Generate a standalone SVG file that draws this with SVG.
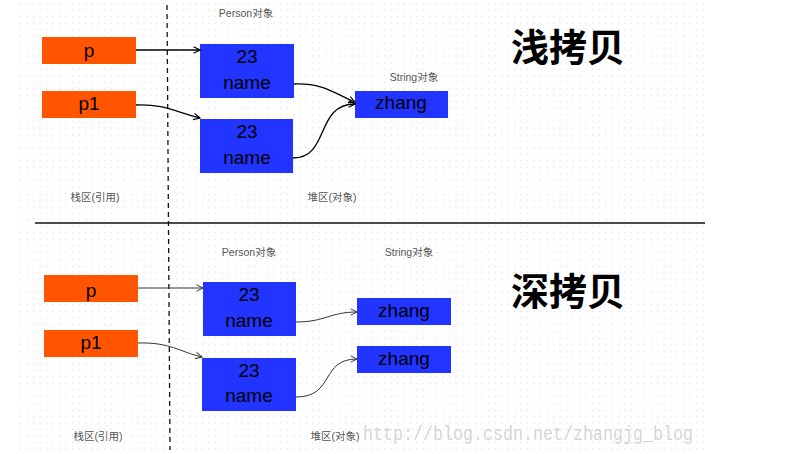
<svg xmlns="http://www.w3.org/2000/svg" width="798" height="454" viewBox="0 0 798 454">
<defs>
<pattern id="dots" x="20" y="3" width="6.5" height="6.55" patternUnits="userSpaceOnUse">
<rect x="0" y="0" width="1.2" height="1.2" fill="#dcdcdc"/>
</pattern>
<marker id="ah" viewBox="0 0 10 10" refX="9" refY="5" markerWidth="8" markerHeight="8" markerUnits="userSpaceOnUse" orient="auto">
<path d="M1,1 L9,5 L1,9" fill="none" stroke="#000" stroke-width="1.4"/>
</marker>
<marker id="ah2" viewBox="0 0 10 10" refX="9" refY="5" markerWidth="8" markerHeight="8" markerUnits="userSpaceOnUse" orient="auto">
<path d="M1,1 L9,5 L1,9" fill="none" stroke="#333" stroke-width="1.2"/>
</marker>
</defs>
<style>
.ref{fill:#FF5500}
.obj{fill:#2234FF}
.t{font-family:"Liberation Sans",Arial,sans-serif;font-size:19px;fill:#000;text-anchor:middle}
.s{font-family:"Liberation Sans","Noto Sans CJK SC",sans-serif;font-size:10.5px;fill:#555;text-anchor:middle}
.h{font-family:"Noto Sans CJK SC",sans-serif;font-size:38px;font-weight:bold;fill:#000;text-anchor:middle}
.c1{fill:none;stroke:#000;stroke-width:1.3}
.c2{fill:none;stroke:#333;stroke-width:1}
</style>
<rect width="798" height="454" fill="#fff"/>
<rect x="20" y="0" width="686" height="454" fill="url(#dots)"/>
<line x1="35" y1="223" x2="705" y2="223" stroke="#111" stroke-width="1.3"/>
<line x1="167" y1="5" x2="170" y2="450" stroke="#111" stroke-width="1.3" stroke-dasharray="5,4"/>

<text class="h" x="568" y="61">浅拷贝</text>
<text class="h" x="568" y="305">深拷贝</text>

<text class="s" x="246" y="17">Person对象</text>
<text class="s" x="414" y="81">String对象</text>
<text class="s" x="95" y="201">栈区(引用)</text>
<text class="s" x="332" y="201">堆区(对象)</text>
<text class="s" x="249" y="256">Person对象</text>
<text class="s" x="409" y="256">String对象</text>
<text class="s" x="98" y="440">栈区(引用)</text>
<text class="s" x="335" y="440">堆区(对象)</text>
<text x="363" y="440" font-family="Liberation Mono,monospace" font-size="20" fill="#d6d6d6" textLength="330" lengthAdjust="spacingAndGlyphs">http://blog.csdn.net/zhangjg_blog</text>

<g id="s-p"><rect class="ref" x="42" y="37" width="94" height="27"/><text class="t" x="89" y="57">p</text></g>
<g id="s-p1"><rect class="ref" x="42" y="91" width="94" height="27"/><text class="t" x="89" y="110">p1</text></g>
<g id="s-person1"><rect class="obj" x="200" y="44" width="94" height="54"/><text class="t" x="247" y="63">23</text><text class="t" x="247" y="89">name</text></g>
<g id="s-person2"><rect class="obj" x="200" y="119" width="93" height="54"/><text class="t" x="247" y="138">23</text><text class="t" x="247" y="164">name</text></g>
<g id="s-string"><rect class="obj" x="355" y="91" width="93" height="27"/><text class="t" x="401" y="109">zhang</text></g>

<g id="d-p"><rect class="ref" x="44" y="275" width="94" height="27"/><text class="t" x="91" y="297">p</text></g>
<g id="d-p1"><rect class="ref" x="44" y="330" width="94" height="27"/><text class="t" x="91" y="349">p1</text></g>
<g id="d-person1"><rect class="obj" x="203" y="282" width="93" height="54"/><text class="t" x="249" y="301">23</text><text class="t" x="249" y="327">name</text></g>
<g id="d-person2"><rect class="obj" x="202" y="358" width="94" height="53"/><text class="t" x="249" y="377">23</text><text class="t" x="249" y="402">name</text></g>
<g id="d-string1"><rect class="obj" x="357" y="298" width="94" height="27"/><text class="t" x="404" y="317">zhang</text></g>
<g id="d-string2"><rect class="obj" x="357" y="346" width="94" height="27"/><text class="t" x="404" y="365">zhang</text></g>

<g id="connectors">
<path class="c1" d="M136,50 L200,50" marker-end="url(#ah)"/>
<path class="c1" d="M136,105 C165,104 175,112 200,118" marker-end="url(#ah)"/>
<path class="c1" d="M294,84 C325,83 335,94 355,102" marker-end="url(#ah)"/>
<path class="c1" d="M293,158 C330,158 315,104 355,104" marker-end="url(#ah)"/>
<path class="c2" d="M138,288 L203,288" marker-end="url(#ah2)"/>
<path class="c2" d="M138,343 C170,342 180,352 202,357" marker-end="url(#ah2)"/>
<path class="c2" d="M296,322 C325,322 330,312 357,312" marker-end="url(#ah2)"/>
<path class="c2" d="M296,397 C335,397 320,359 357,359" marker-end="url(#ah2)"/>
</g>
</svg>
